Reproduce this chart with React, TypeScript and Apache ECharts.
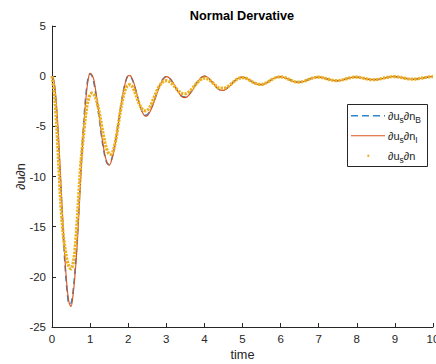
import React, { useEffect, useRef } from 'react';
import * as echarts from 'echarts';

const times = [
  0, 0.05, 0.1, 0.15, 0.2, 0.25, 0.3, 0.35, 0.4, 0.45, 0.5, 0.55, 0.6, 0.65, 0.7, 0.75, 0.8, 0.85, 0.9, 0.95,
  1, 1.05, 1.1, 1.15, 1.2, 1.25, 1.3, 1.35, 1.4, 1.45, 1.5, 1.55, 1.6, 1.65, 1.7, 1.75, 1.8, 1.85, 1.9, 1.95,
  2, 2.05, 2.1, 2.15, 2.2, 2.25, 2.3, 2.35, 2.4, 2.45, 2.5, 2.55, 2.6, 2.65, 2.7, 2.75, 2.8, 2.85, 2.9, 2.95,
  3, 3.1, 3.2, 3.3, 3.4, 3.5, 3.6, 3.7, 3.8, 3.9,
  4, 4.1, 4.2, 4.3, 4.4, 4.5, 4.6, 4.7, 4.8, 4.9,
  5, 5.1, 5.2, 5.3, 5.4, 5.5, 5.6, 5.7, 5.8, 5.9,
  6, 6.1, 6.2, 6.3, 6.4, 6.5, 6.6, 6.7, 6.8, 6.9,
  7, 7.1, 7.2, 7.3, 7.4, 7.5, 7.6, 7.7, 7.8, 7.9,
  8, 8.1, 8.2, 8.3, 8.4, 8.5, 8.6, 8.7, 8.8, 8.9,
  9, 9.1, 9.2, 9.3, 9.4, 9.5, 9.6, 9.7, 9.8, 9.9, 10,
];

// ∂u_s∂n_B (dashed blue)
const dudnB = [
  0, -0.63, -2.46, -5.27, -8.77, -12.54, -16.19, -19.32, -21.57, -22.7, -22.62, -21.53, -19.54, -16.85, -13.5, -9.9, -6.4, -3.6, -1.45, -0.15,
  0.25, 0.01, -0.68, -1.76, -3.1, -4.57, -6.01, -7.26, -8.19, -8.71, -8.77, -8.44, -7.76, -6.8, -5.65, -4.38, -3.1, -1.95, -0.99, -0.31,
  0.02, 0.0, -0.28, -0.78, -1.43, -2.14, -2.83, -3.39, -3.77, -3.9, -3.82, -3.59, -3.23, -2.77, -2.25, -1.7, -1.18, -0.71, -0.36, -0.13,
  -0.05, -0.27, -0.84, -1.51, -1.99, -2.08, -1.8, -1.27, -0.66, -0.18,
  0.0, -0.16, -0.58, -1.05, -1.36, -1.37, -1.16, -0.81, -0.44, -0.17,
  -0.1, -0.21, -0.43, -0.66, -0.82, -0.84, -0.72, -0.5, -0.26, -0.1,
  -0.05, -0.13, -0.29, -0.46, -0.58, -0.59, -0.52, -0.38, -0.23, -0.13,
  -0.1, -0.15, -0.25, -0.36, -0.43, -0.45, -0.39, -0.29, -0.18, -0.11,
  -0.1, -0.15, -0.22, -0.3, -0.34, -0.34, -0.29, -0.2, -0.12, -0.06,
  -0.05, -0.09, -0.16, -0.24, -0.29, -0.3, -0.26, -0.2, -0.13, -0.07, -0.05,
];

// ∂u_s∂n_I (solid red)
const dudnI = [
  0, -0.4, -2.0, -4.6, -8.0, -11.8, -15.5, -18.8, -21.2, -22.6, -22.95, -21.9, -20.0, -17.5, -14.2, -10.6, -7.0, -4.1, -1.85, -0.35,
  0.28, 0.12, -0.38, -1.5, -2.8, -4.28, -5.75, -7.05, -8.05, -8.65, -8.9, -8.55, -7.9, -6.95, -5.8, -4.5, -3.2, -2.05, -1.05, -0.35,
  0.03, 0.05, -0.22, -0.7, -1.36, -2.07, -2.78, -3.38, -3.8, -4.0, -3.95, -3.7, -3.33, -2.86, -2.33, -1.77, -1.24, -0.76, -0.4, -0.15,
  -0.05, -0.24, -0.8, -1.48, -2.0, -2.14, -1.86, -1.33, -0.71, -0.21,
  0.0, -0.14, -0.55, -1.03, -1.38, -1.42, -1.21, -0.86, -0.48, -0.19,
  -0.1, -0.21, -0.43, -0.66, -0.82, -0.85, -0.73, -0.51, -0.27, -0.1,
  -0.05, -0.13, -0.29, -0.46, -0.58, -0.6, -0.53, -0.39, -0.24, -0.13,
  -0.1, -0.15, -0.25, -0.36, -0.43, -0.46, -0.4, -0.3, -0.19, -0.11,
  -0.1, -0.15, -0.22, -0.3, -0.34, -0.35, -0.3, -0.21, -0.12, -0.06,
  -0.05, -0.09, -0.16, -0.24, -0.29, -0.31, -0.27, -0.21, -0.14, -0.07, -0.05,
];

// ∂u_s∂n (yellow dots)
const dudn = [
  0, -1.3, -3.6, -6.8, -10.6, -13.8, -16.0, -17.4, -18.4, -19.0, -19.2, -18.7, -17.4, -15.0, -12.0, -9.0, -6.9, -5.0, -3.4, -2.4,
  -1.85, -1.7, -1.8, -2.2, -2.9, -3.8, -4.9, -5.9, -6.8, -7.4, -7.75, -7.8, -7.5, -6.8, -5.8, -4.6, -3.4, -2.4, -1.6, -1.1,
  -0.9, -0.85, -1.0, -1.35, -1.85, -2.4, -2.85, -3.2, -3.4, -3.45, -3.4, -3.2, -2.85, -2.4, -1.95, -1.5, -1.1, -0.8, -0.6, -0.48,
  -0.45, -0.6, -0.95, -1.4, -1.7, -1.75, -1.55, -1.15, -0.7, -0.35,
  -0.2, -0.3, -0.6, -0.95, -1.2, -1.2, -1.05, -0.78, -0.45, -0.22,
  -0.15, -0.22, -0.43, -0.64, -0.79, -0.82, -0.71, -0.5, -0.27, -0.12,
  -0.07, -0.13, -0.29, -0.46, -0.58, -0.59, -0.52, -0.38, -0.23, -0.13,
  -0.1, -0.15, -0.25, -0.36, -0.43, -0.45, -0.39, -0.29, -0.18, -0.11,
  -0.1, -0.15, -0.22, -0.3, -0.34, -0.34, -0.29, -0.2, -0.12, -0.06,
  -0.05, -0.09, -0.16, -0.24, -0.29, -0.3, -0.26, -0.2, -0.13, -0.07, -0.05,
];

const seriesNames = ['∂u_s∂n_B', '∂u_s∂n_I', '∂u_s∂n'];
const legendTexts = ['{m|∂u}{s|s}{m|∂n}{s|B}', '{m|∂u}{s|s}{m|∂n}{s|I}', '{m|∂u}{s|s}{m|∂n}'];

const BLUE = '#2F86CC';
const RED = '#D95319';
const YELLOW = '#EDB120';
const INK = '#262626';
const FONT = "'Liberation Sans', Arial, Helvetica, sans-serif";

export default function App() {
  const ref = useRef<HTMLDivElement>(null);
  useEffect(() => {
    document.documentElement.style.overflow = 'hidden';
    document.body.style.margin = '0';
    document.body.style.overflow = 'hidden';
    const chart = echarts.init(ref.current!, null, { renderer: 'svg' });
    const pair = (arr: number[]) => times.map((t, i) => [t, arr[i]]);
    const rich = {
      m: { fontSize: 11, fontFamily: FONT, color: INK },
      s: { fontSize: 8.5, fontFamily: FONT, color: INK, padding: [9, 0, 0, 0] },
    };
    const rowY = [115.7, 135.7, 155.7];
    chart.setOption({
      animation: false,
      backgroundColor: '#ffffff',
      title: {
        text: 'Normal Dervative',
        left: 242,
        top: 9,
        textAlign: 'center',
        padding: 0,
        textStyle: { fontFamily: FONT, fontSize: 12.7, fontWeight: 'bold', color: '#000' },
      },
      grid: { left: 52, right: 3, top: 26, bottom: 37, containLabel: false, outerBoundsMode: 'none' },
      xAxis: {
        type: 'value',
        min: 0,
        max: 10,
        interval: 1,
        name: 'time',
        nameLocation: 'middle',
        nameGap: 21,
        nameMoveOverlap: false,
        nameTextStyle: { fontFamily: FONT, fontSize: 12.7, color: INK },
        axisLine: { onZero: false, lineStyle: { color: INK, width: 1 } },
        axisTick: { inside: true, length: 4, lineStyle: { color: INK } },
        axisLabel: { margin: 6, color: INK, fontSize: 11.5, fontFamily: FONT },
        splitLine: { show: false },
      },
      yAxis: {
        type: 'value',
        min: -25,
        max: 5,
        interval: 5,
        name: '∂u∂n',
        nameLocation: 'middle',
        nameGap: 25,
        nameRotate: 90,
        nameMoveOverlap: false,
        nameTextStyle: { fontFamily: FONT, fontSize: 12.7, color: INK },
        axisLine: { show: true, lineStyle: { color: INK, width: 1 } },
        axisTick: { show: true, inside: true, length: 4, lineStyle: { color: INK } },
        axisLabel: { margin: 6, color: INK, fontSize: 11.5, fontFamily: FONT },
        splitLine: { show: false },
      },
      series: [
        {
          name: seriesNames[0],
          type: 'line',
          data: pair(dudnB),
          symbol: 'none',
          smooth: 0.35,
          lineStyle: { color: BLUE, width: 1.5, type: [6, 4] },
        },
        {
          name: seriesNames[1],
          type: 'line',
          data: pair(dudnI),
          symbol: 'none',
          smooth: 0.35,
          lineStyle: { color: RED, width: 1.1 },
        },
        {
          name: seriesNames[2],
          type: 'line',
          data: pair(dudn),
          symbol: 'none',
          smooth: 0.35,
          lineStyle: { color: YELLOW, width: 3.2, type: [2.4, 1.1] },
        },
      ],
      graphic: [
        {
          type: 'rect',
          z: 100,
          shape: { x: 347.5, y: 104.5, width: 80, height: 62 },
          style: { fill: '#ffffff', stroke: INK, lineWidth: 1 },
        },
        {
          type: 'line',
          z: 101,
          shape: { x1: 351, y1: rowY[0], x2: 385, y2: rowY[0] },
          style: { stroke: BLUE, lineWidth: 1.5, lineDash: [7, 4] },
        },
        {
          type: 'line',
          z: 101,
          shape: { x1: 351, y1: rowY[1], x2: 385, y2: rowY[1] },
          style: { stroke: RED, lineWidth: 1.1 },
        },
        {
          type: 'circle',
          z: 101,
          shape: { cx: 368.3, cy: rowY[2], r: 1.2 },
          style: { fill: YELLOW },
        },
        ...legendTexts.map((t, i) => ({
          type: 'text',
          z: 101,
          x: 388,
          y: rowY[i],
          style: { text: t, rich, verticalAlign: 'middle', align: 'left', fill: INK, fontFamily: FONT, fontSize: 11 },
        })),
      ],
    });
    return () => chart.dispose();
  }, []);
  return <div ref={ref} style={{ position: 'absolute', left: 0, top: 0, width: 436, height: 364 }} />;
}
